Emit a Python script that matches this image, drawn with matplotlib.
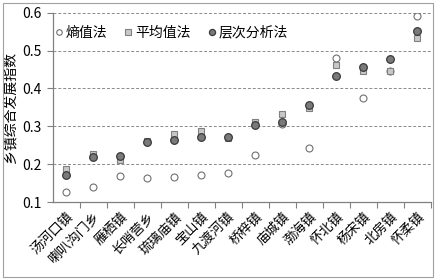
import matplotlib
matplotlib.use("Agg")
import matplotlib.pyplot as plt
from matplotlib.patches import Rectangle
import numpy as np

plt.rcParams['font.family'] = ['Noto Sans CJK SC', 'DejaVu Sans']

towns = ['汤河口镇', '喇叭沟门乡', '雁栖镇', '长哨营乡', '琉璃庙镇', '宝山镇', '九渡河镇',
         '桥梓镇', '庙城镇', '渤海镇', '怀北镇', '杨宋镇', '北房镇', '怀柔镇']
entropy = [0.127, 0.140, 0.169, 0.163, 0.166, 0.172, 0.177, 0.224, 0.305, 0.242, 0.481, 0.374, 0.446, 0.590]
mean = [0.187, 0.226, 0.210, 0.261, 0.280, 0.288, 0.268, 0.311, 0.333, 0.348, 0.463, 0.447, 0.447, 0.533]
ahp = [0.172, 0.218, 0.222, 0.259, 0.265, 0.272, 0.272, 0.303, 0.310, 0.355, 0.432, 0.457, 0.479, 0.551]

fig = plt.figure(figsize=(4.39, 2.80), dpi=100)
ax = fig.add_axes([53/439, 1-202/280, 378/439, (202-12.7)/280])

x = np.arange(len(towns))
ax.plot(x, entropy, ls='none', marker='o', ms=5, mfc='white', mec='#707070', mew=0.8, label='熵值法', zorder=3)
ax.plot(x, mean, ls='none', marker='s', ms=5, mfc='#c8c8c8', mec='#808080', mew=0.8, label='平均值法', zorder=4)
ax.plot(x, ahp, ls='none', marker='o', ms=5.5, mfc='#7a7a7a', mec='#3a3a3a', mew=0.9, label='层次分析法', zorder=5)

ax.set_xlim(-0.5, len(towns) - 0.5)
ax.set_ylim(0.1, 0.6)
ax.set_yticks([0.1, 0.2, 0.3, 0.4, 0.5, 0.6])
ax.set_yticklabels(['0.1', '0.2', '0.3', '0.4', '0.5', '0.6'], fontsize=10)
ax.yaxis.grid(True, ls=(0, (3, 2)), color='#8a8a8a', lw=0.7)
ax.set_axisbelow(True)

ax.set_xticks(x)
ax.set_xticklabels(towns, rotation=45, ha='right', rotation_mode='anchor', fontsize=9.5)
ax.set_xticks(np.arange(0.5, len(towns), 1.0), minor=True)
ax.tick_params(axis='x', which='major', length=0, pad=6)
ax.tick_params(axis='x', which='minor', length=4, color='#808080', width=0.8)
ax.tick_params(axis='y', length=4, color='#808080', width=0.8, pad=4)

for s in ['top', 'right']:
    ax.spines[s].set_visible(False)
for s in ['left', 'bottom']:
    ax.spines[s].set_color('#808080')
    ax.spines[s].set_linewidth(0.9)

ax.set_ylabel('乡镇综合发展指数', fontsize=10, labelpad=4)

ax.legend(loc='upper left', bbox_to_anchor=(-0.01, 0.96), ncol=3, frameon=False, fontsize=10,
          handlelength=0.6, handletextpad=0.2, columnspacing=1.2, markerscale=0.8, borderaxespad=0)

fig.patches.append(Rectangle((3/439, 3/280), 430/439, 274/280, transform=fig.transFigure,
                             fill=False, edgecolor='#a0a0a0', lw=0.8))

fig.savefig('out.png', dpi=100)
